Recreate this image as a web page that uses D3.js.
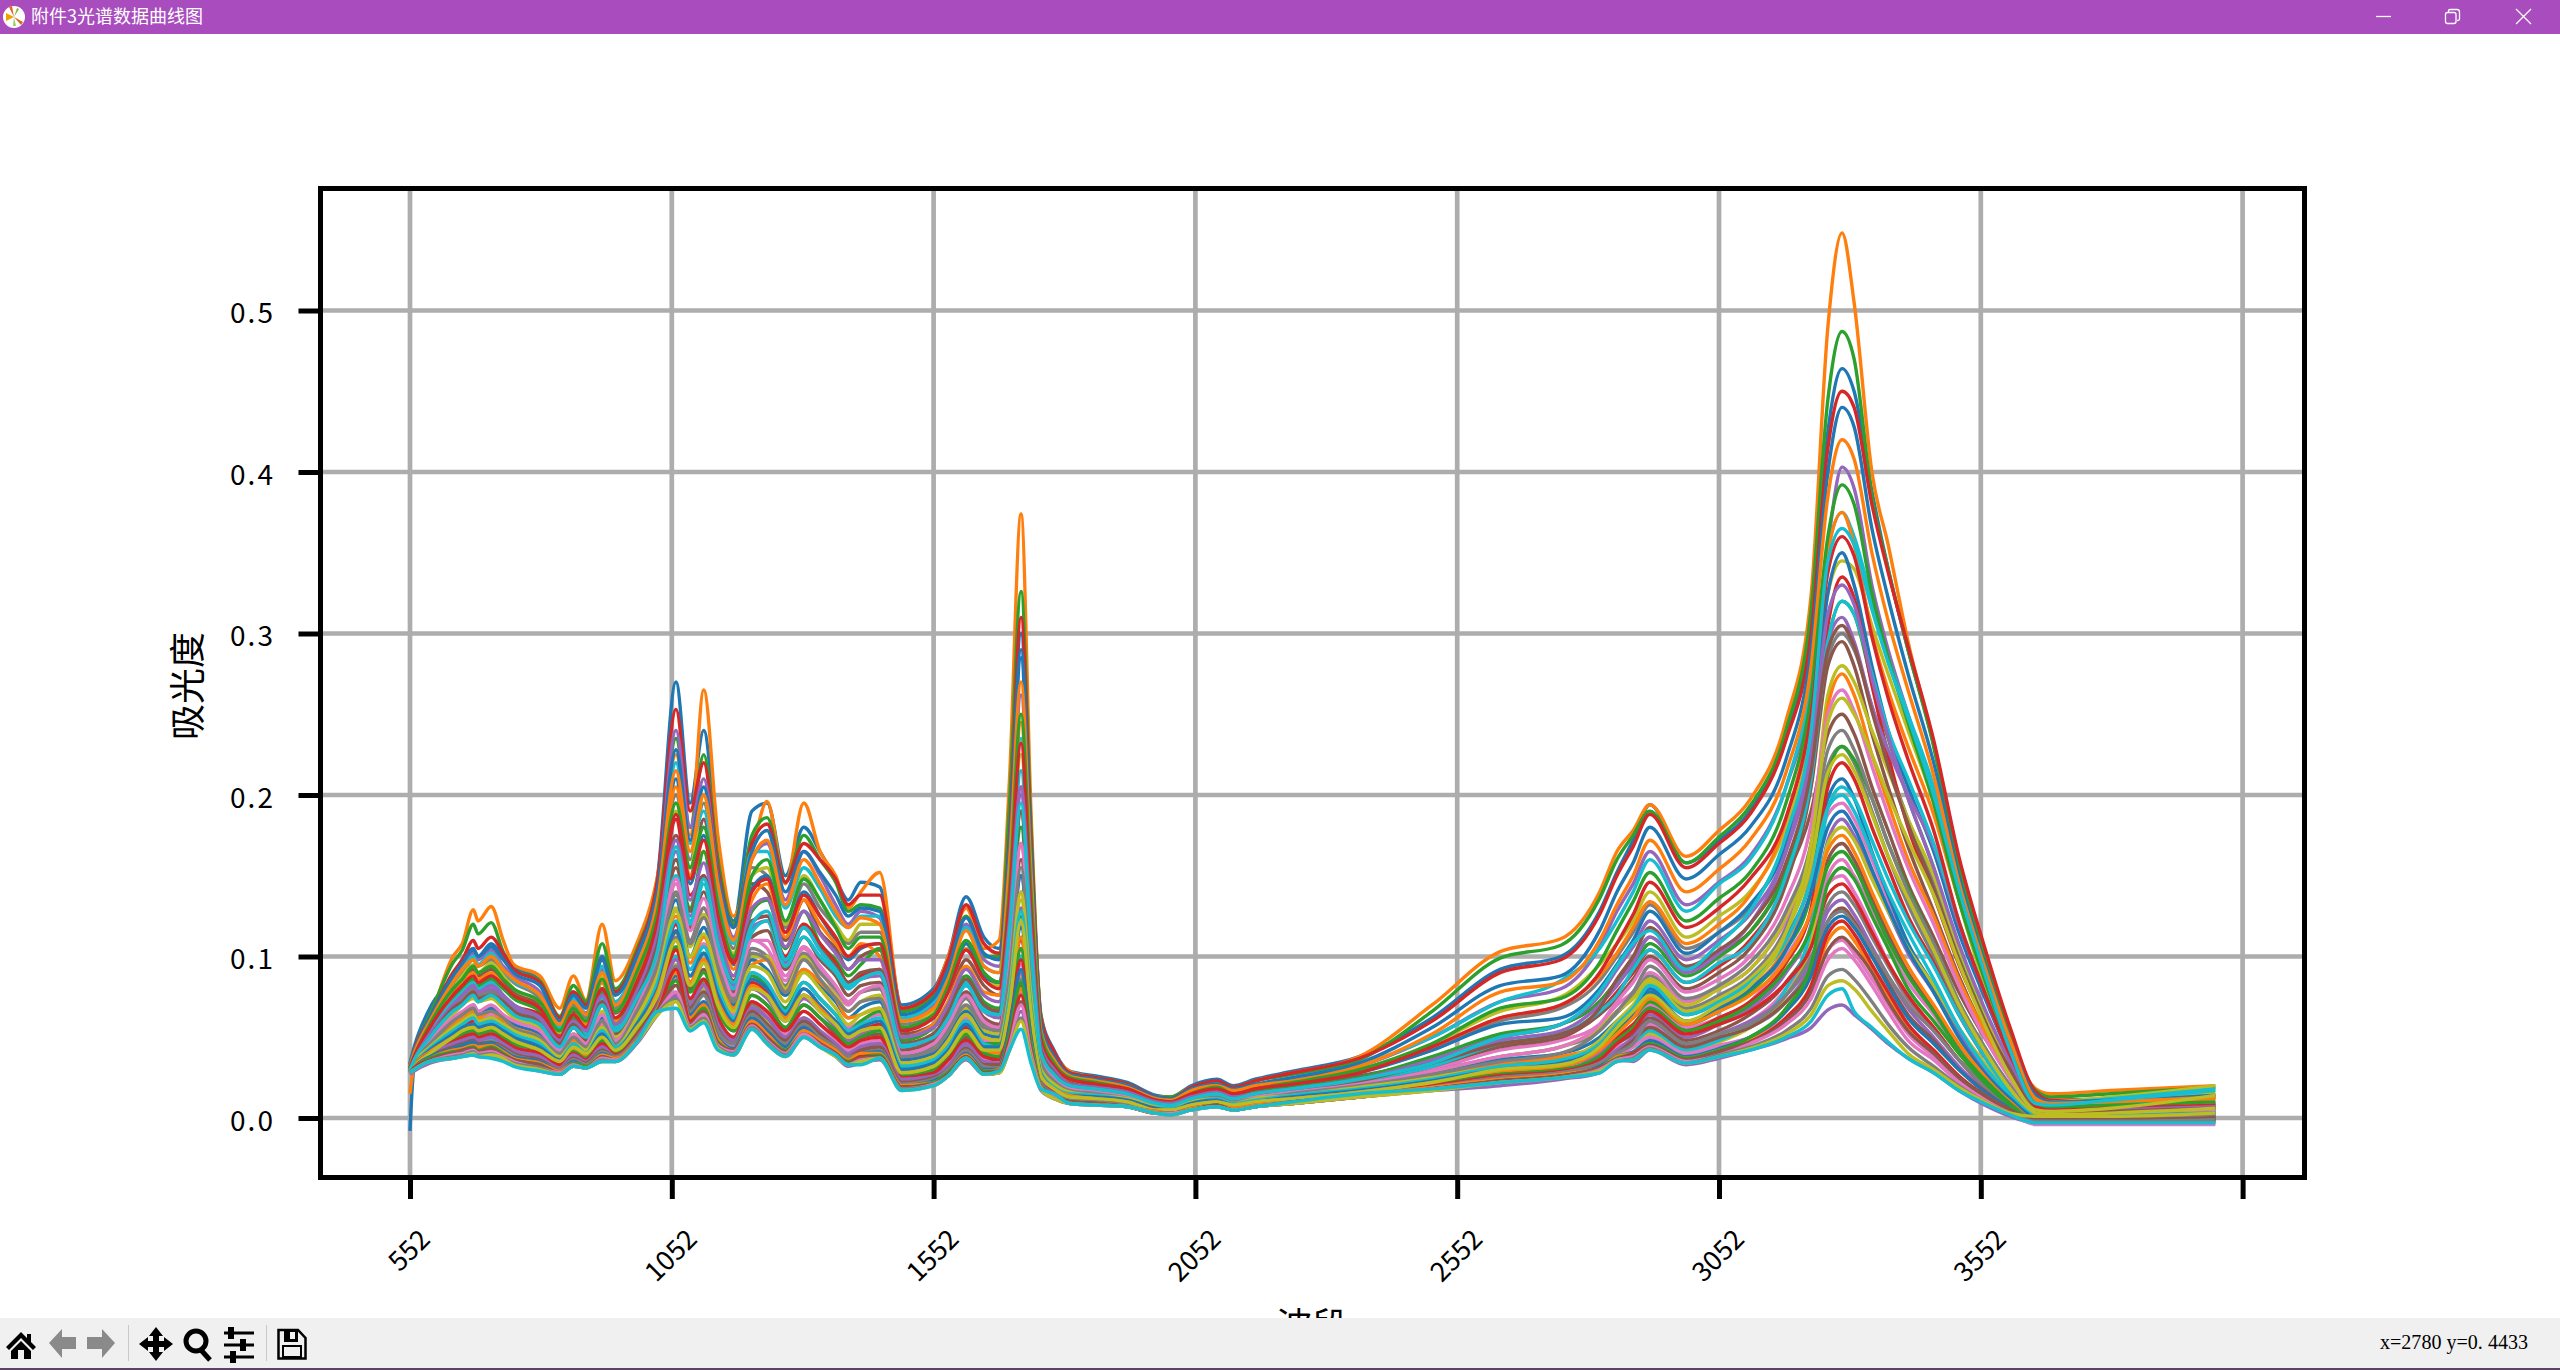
<!DOCTYPE html>
<html>
<head>
<meta charset="utf-8">
<title>附件3光谱数据曲线图</title>
<script src="https://cdn.jsdelivr.net/npm/d3@7"></script>
<style>
html,body{margin:0;padding:0;background:#fff;overflow:hidden;}
svg{display:block;}
</style>
</head>
<body>
<script>
//declare data, absorbance values are in thousandths
var waveNumbers = [552,560,590,634,652,673,682,707,730,750,800,838,864,888,919,944,985,1025,1060,1087,1113,1140,1170,1205,1234,1269,1304,1335,1365,1389,1413,1449,1491,1552,1580,1614,1648,1677,1697,1719,1738,1757,1782,1812,1862,1922,1977,2005,2044,2093,2124,2166,2238,2365,2504,2634,2750,2824,2857,2888,2920,2989,3052,3111,3180,3228,3260,3287,3310,3344,3375,3413,3462,3510,3559,3608,3657,3686,3800,4000];
var xTicks = [552,1052,1552,2052,2552,3052,3552,4052];
var xTickLabels = ["552","1052","1552","2052","2552","3052","3552",""];
var yTicks = [0,100,200,300,400,500];
var yTickLabels = ["0.0","0.1","0.2","0.3","0.4","0.5"];
var lineColors = ["#1f77b4","#ff7f0e","#2ca02c","#d62728","#9467bd","#8c564b","#e377c2","#7f7f7f","#bcbd22","#17becf"];

var s00 = [34,44,68,88,98,105,100,108,100,94,85,62,78,70,100,78,105,150,270,195,240,165,122,190,195,150,180,165,148,135,146,143,70,80,100,137,112,105,180,300,170,64,42,29,26,22,14,13,20,24,20,24,29,38,62,92,100,128,152,172,194,158,172,190,238,305,425,464,450,388,340,290,232,160,103,52,14,10,11,13];
var s01 = [33,40,62,100,108,129,122,131,110,95,88,68,88,73,120,85,108,150,225,175,265,175,125,165,196,145,195,165,150,130,140,152,68,78,100,130,105,110,210,374,190,62,40,29,25,21,13,13,19,22,19,23,28,38,70,103,111,140,165,178,194,162,178,197,246,324,490,548,505,400,355,295,231,155,100,51,18,15,17,20];
var s02 = [33,42,64,96,104,120,114,121,103,92,85,63,82,72,108,80,104,146,235,180,225,160,120,175,186,146,175,160,146,128,132,130,66,76,96,125,100,100,195,326,180,62,40,28,25,21,13,13,19,22,19,23,27,36,66,99,107,136,160,175,190,158,174,193,240,315,445,487,470,385,340,290,230,155,100,51,17,13,15,19];
var s03 = [33,42,62,90,98,110,105,112,102,92,84,62,78,70,98,78,102,148,253,190,220,155,118,170,182,146,170,160,148,132,138,138,68,78,98,132,108,102,175,310,172,62,41,28,25,21,13,12,19,23,19,23,28,37,60,90,98,126,150,168,188,155,170,188,234,300,415,450,440,380,338,292,234,162,106,56,16,11,12,14];
var s04 = [32,40,60,86,94,102,98,104,94,88,78,57,72,65,92,72,96,140,240,180,210,150,112,160,170,135,165,150,132,120,128,124,60,70,88,120,98,94,150,262,148,56,36,26,23,19,12,11,17,20,17,20,24,32,50,72,80,106,128,145,165,132,146,162,205,265,355,403,390,330,290,250,200,140,92,48,13,9,10,12];
var s05 = [31,38,56,78,84,92,88,92,85,78,70,52,66,58,84,65,88,125,175,150,185,128,98,145,140,110,135,115,105,92,100,104,52,58,72,98,82,76,118,190,110,46,30,22,19,16,10,9,14,17,14,17,20,26,36,50,58,72,85,98,112,92,102,115,150,190,238,250,238,205,178,145,112,78,50,26,6,4,5,7];
var s06 = [30,36,50,64,70,76,72,76,70,64,58,44,56,50,70,56,76,105,145,110,130,100,78,110,105,85,105,92,78,70,78,80,40,46,58,78,62,58,85,120,75,34,24,18,16,13,8,7,11,14,11,13,16,22,30,42,48,58,70,78,90,72,80,92,122,155,188,195,185,160,135,105,78,52,30,14,2,1,2,3];
var s07 = [32,39,58,82,90,98,94,98,90,84,74,54,70,62,90,68,92,135,200,160,195,138,105,155,150,118,145,130,118,108,115,115,58,64,80,108,90,84,130,205,122,50,33,24,21,18,11,10,15,18,15,18,22,29,42,60,68,85,100,115,132,105,115,130,170,220,285,300,290,255,220,185,145,100,62,30,8,6,7,9];
var s08 = [32,38,56,80,88,95,90,96,88,80,72,53,68,60,88,66,90,130,190,155,200,135,102,150,155,120,150,135,120,110,120,120,60,66,82,105,88,82,140,225,128,50,34,25,22,19,12,11,16,20,16,19,22,30,46,66,75,95,108,122,140,112,125,140,180,240,325,345,340,305,275,240,195,135,82,38,12,10,13,20];
var s09 = [33,41,60,84,92,100,95,102,92,85,76,56,74,64,94,72,96,140,220,170,190,140,108,165,165,130,155,142,125,118,125,125,62,72,90,118,94,90,150,235,135,54,36,26,23,20,12,11,17,21,17,20,25,33,50,72,85,105,122,140,160,128,145,160,205,270,352,375,360,320,285,250,205,145,92,46,11,9,12,18];
var s10 = [30,38,54,74,82,86,82,88,82,76,68,50,64,56,80,60,84,122,210,145,175,125,95,142,150,115,140,125,110,98,105,108,55,62,80,108,88,84,160,285,150,52,34,24,21,18,11,10,15,19,15,18,21,28,42,58,62,80,95,110,128,102,115,132,170,235,325,350,330,280,240,205,165,115,75,38,8,6,7,9];
var s11 = [31,39,56,76,84,90,86,90,82,76,68,50,64,58,84,60,86,128,205,150,165,125,92,135,145,112,135,120,108,100,108,100,50,58,72,94,78,76,135,245,130,48,30,24,22,18,11,10,15,18,15,18,22,30,44,62,70,88,102,118,134,108,120,138,185,255,350,375,355,300,265,230,188,135,88,46,10,8,9,12];
var s12 = [31,37,52,72,80,86,82,86,80,74,66,48,62,54,78,58,80,112,160,130,165,115,88,128,135,105,128,108,98,88,95,105,48,56,70,88,72,68,115,180,102,42,28,20,18,15,9,9,13,16,13,16,19,25,38,52,58,72,84,94,108,88,100,115,155,215,295,320,312,270,235,198,155,105,65,32,5,4,5,7];
var s13 = [30,37,52,70,76,84,78,84,76,70,64,47,60,52,74,56,78,118,185,138,150,110,85,122,125,100,120,108,96,84,88,92,46,52,64,84,68,66,110,170,96,40,27,19,17,14,9,8,12,15,12,15,18,23,34,46,50,66,78,90,104,84,94,110,148,210,305,335,322,268,225,180,138,95,60,30,3,2,3,4];
var s14 = [31,36,50,68,74,80,76,80,74,68,62,46,58,50,72,54,74,108,165,125,150,108,82,118,122,96,118,104,92,82,86,88,44,50,62,82,66,62,120,200,108,38,26,20,18,15,9,8,13,16,13,15,18,24,34,48,54,70,82,96,112,90,102,120,165,228,295,310,295,255,228,200,168,120,78,38,7,5,6,8];
var s15 = [30,36,50,66,72,78,74,78,72,66,60,44,56,48,70,52,72,105,155,118,140,102,78,112,116,92,112,98,88,76,82,84,42,48,58,78,62,58,100,160,90,36,25,18,16,14,8,7,12,15,12,14,17,22,32,44,50,64,74,86,100,80,90,105,145,205,280,295,280,238,205,168,128,88,54,26,4,3,4,6];
var s16 = [30,34,46,58,62,66,62,64,60,54,50,38,46,42,58,46,64,90,120,92,108,82,64,90,84,68,84,74,64,56,60,64,32,36,46,62,48,46,70,100,62,28,20,15,13,11,6,6,9,12,9,11,14,19,25,33,37,46,56,62,70,56,62,72,100,125,145,150,140,118,96,72,54,36,20,8,0,-1,0,1];
var s17 = [31,36,50,68,74,80,76,78,72,66,58,46,56,50,70,54,72,102,140,110,130,98,74,105,100,82,102,90,80,72,78,80,38,44,56,74,58,56,92,150,86,34,23,17,15,13,8,7,11,14,11,13,16,21,29,38,44,54,65,75,88,68,76,88,118,162,218,230,220,190,162,132,100,68,42,20,3,2,3,5];
var s18 = [29,35,48,64,70,74,72,74,68,62,56,42,52,46,66,50,68,98,130,106,126,96,72,100,100,80,100,86,76,66,72,76,36,42,52,68,54,52,86,135,78,32,22,17,15,12,8,7,11,14,11,13,16,20,28,38,44,56,66,74,86,70,80,92,125,170,262,280,270,240,215,185,150,105,66,30,8,7,9,16];
var s19 = [32,38,54,72,78,84,80,84,76,70,62,48,58,52,74,56,76,106,150,120,145,104,80,115,122,94,112,100,90,80,86,90,44,52,64,84,68,64,125,215,115,40,26,19,17,14,9,8,12,15,12,15,18,23,32,46,52,66,76,92,104,84,96,108,150,210,295,320,312,275,240,210,170,122,78,38,6,5,8,14];
var s20 = [31,35,46,60,64,70,66,68,62,58,52,40,50,44,62,48,66,96,135,100,118,90,70,98,92,76,92,82,72,62,68,72,36,40,50,66,52,50,92,150,84,32,21,16,14,12,7,6,10,13,10,12,15,20,27,36,40,50,60,68,80,64,72,84,112,148,198,210,198,165,138,108,82,55,32,14,1,0,1,3];
var s21 = [29,34,46,58,62,66,62,66,60,56,50,38,48,42,60,46,62,92,125,96,112,88,68,95,98,78,92,84,74,62,64,68,34,38,48,64,50,48,88,140,78,30,20,16,14,12,7,6,10,13,10,12,15,20,26,34,38,46,55,64,76,60,68,80,108,155,255,275,262,225,195,160,125,86,54,26,4,3,4,8];
var s22 = [30,34,44,56,60,64,60,62,58,52,46,37,46,40,56,44,60,84,110,88,102,80,62,88,82,68,84,74,64,54,60,66,30,36,44,60,46,46,80,125,70,28,19,14,13,11,6,6,9,12,9,11,14,18,24,32,36,46,54,62,72,58,66,78,104,140,212,230,222,198,170,142,108,72,44,20,2,1,2,4];
var s23 = [29,33,43,52,56,60,58,60,54,50,44,35,44,38,52,42,56,80,120,84,98,72,58,84,78,62,76,68,58,50,54,58,28,32,40,56,42,42,72,110,62,26,18,13,12,10,5,5,8,11,8,10,13,17,23,30,34,42,50,58,68,54,62,72,96,130,205,220,210,180,155,125,96,64,38,16,0,-1,0,1];
var s24 = [30,33,42,52,55,58,55,58,52,48,44,35,42,38,50,42,56,78,105,80,96,70,56,80,74,60,74,66,56,48,52,56,28,32,38,54,42,42,82,130,70,26,18,13,12,10,5,5,8,10,8,10,12,16,22,28,32,40,48,54,64,50,58,68,90,120,172,185,175,150,128,102,78,52,30,14,0,-1,0,2];
var s25 = [29,33,42,50,54,56,54,56,50,46,42,34,42,37,50,41,54,76,115,80,92,68,54,76,70,56,70,62,52,46,50,52,26,30,38,50,38,38,68,105,58,24,17,13,11,9,5,4,8,10,7,9,12,16,21,28,30,38,46,52,62,48,54,64,84,112,160,170,160,136,114,90,68,44,26,10,-1,-1,-1,0];
var s26 = [28,32,40,48,50,54,50,52,48,44,40,32,40,36,46,40,52,74,100,74,86,62,50,72,64,52,66,58,48,42,46,48,24,28,34,46,36,34,60,95,54,23,16,12,11,9,5,4,7,9,7,9,11,15,20,26,29,36,44,48,58,45,52,60,80,106,150,160,150,128,106,84,64,42,24,10,-2,-2,-2,-1];
var s27 = [29,32,40,46,48,50,48,50,46,42,38,31,38,34,44,38,50,72,112,72,84,60,48,70,62,50,62,54,46,40,44,46,23,26,32,44,34,32,68,112,60,22,15,12,10,8,4,4,7,9,7,8,11,14,19,25,28,34,40,44,52,42,48,56,72,96,132,140,132,112,94,74,56,36,20,8,-1,-1,-1,1];
var s28 = [28,31,39,45,47,50,47,49,45,41,37,30,37,33,43,37,49,70,95,70,80,58,47,68,60,48,60,52,44,38,42,44,22,25,30,42,32,31,54,88,50,21,15,11,10,8,4,3,6,8,6,8,10,14,19,24,27,33,40,44,52,41,47,56,76,110,170,180,172,148,128,105,82,56,34,14,2,1,3,10];
var s29 = [28,32,38,44,46,48,46,48,44,40,36,30,36,33,42,38,50,70,100,68,76,54,45,66,58,46,58,50,44,38,42,42,21,24,30,42,32,31,60,100,56,22,14,11,10,8,4,3,6,8,6,8,10,14,19,25,28,34,42,46,54,42,48,58,80,118,192,205,198,172,148,122,94,64,38,16,1,0,2,8];
var s30 = [-8,31,38,43,45,47,45,46,42,38,35,29,35,32,40,37,48,69,88,64,72,50,43,62,54,44,56,48,42,36,40,41,20,23,28,40,30,30,56,92,50,20,14,10,9,7,4,3,6,8,5,7,10,13,18,24,26,32,38,41,48,38,43,50,66,88,118,125,118,100,82,62,46,30,16,6,-2,-2,-2,0];
var s31 = [15,31,37,42,43,45,44,45,41,37,34,29,34,32,39,37,48,68,90,62,70,49,42,60,52,42,54,48,42,36,40,40,20,22,28,39,29,30,50,80,46,20,13,10,9,7,4,3,6,8,6,8,10,14,19,24,27,31,38,40,46,37,42,48,62,82,110,118,110,92,74,56,42,26,14,5,-3,-2,-3,-2];
var s32 = [28,31,37,41,42,44,42,44,40,36,33,28,34,32,38,36,47,67,85,60,68,47,42,58,50,42,52,46,40,35,38,39,19,22,28,38,29,29,52,84,46,20,14,10,9,7,3,3,5,8,5,7,9,13,18,23,26,31,37,40,46,37,42,50,68,95,145,155,148,125,105,80,60,40,22,8,-2,-2,-2,-1];
var s33 = [28,31,36,40,41,43,41,42,39,36,32,28,33,31,37,36,47,66,92,60,66,46,41,58,50,40,52,46,40,34,38,38,19,21,27,38,28,29,48,76,42,19,13,10,9,7,3,3,5,8,5,7,9,13,18,23,26,31,36,40,45,36,41,47,62,82,114,122,114,95,78,58,42,26,14,5,-2,-2,-2,-1];
var s34 = [27,29,34,37,38,39,38,38,36,33,29,27,32,31,35,35,46,64,76,54,60,43,39,56,46,38,50,44,38,32,34,36,18,20,26,36,27,28,44,66,38,17,12,9,8,7,3,2,5,7,5,7,10,14,17,20,24,28,36,35,42,33,37,42,49,56,67,70,64,55,46,37,28,17,8,1,-3,-3,-3,-3];
var s35 = [28,30,36,40,42,43,41,43,39,36,33,28,33,31,38,36,47,66,82,58,66,46,42,58,50,41,52,46,40,34,37,38,19,21,27,38,28,29,46,72,41,19,13,10,9,7,3,3,5,8,5,7,10,13,18,23,26,31,36,39,45,36,41,47,60,78,104,112,105,90,72,54,40,25,14,5,-1,-1,-1,0];
var s36 = [28,30,35,39,40,42,40,41,38,35,31,28,33,31,37,36,47,65,78,57,64,45,41,57,48,40,52,45,39,33,36,37,18,21,26,37,27,28,45,70,40,19,13,9,8,7,3,3,5,7,5,7,9,13,18,22,25,30,36,38,44,35,39,46,58,74,98,105,98,82,66,48,36,22,11,3,-4,-4,-4,-4];
var s37 = [28,30,35,38,39,41,39,40,37,34,31,27,32,31,36,35,47,65,74,56,62,44,40,56,47,39,50,44,39,33,35,37,18,20,26,37,27,28,42,62,37,18,12,9,8,7,3,2,5,7,5,7,9,13,17,22,25,29,35,37,43,34,39,44,54,68,88,92,86,72,58,44,32,20,10,3,-2,-2,-2,-1];
var s38 = [28,30,35,37,38,40,38,39,37,33,30,27,32,31,35,35,47,64,72,55,60,43,39,55,46,38,50,44,38,33,35,37,17,20,26,37,27,28,42,60,36,18,12,9,8,7,3,2,5,7,5,7,9,13,17,22,25,29,35,36,42,34,38,43,52,64,82,85,80,66,54,40,30,19,10,3,1,1,1,3];
var s39 = [28,30,35,37,38,39,38,37,35,32,29,27,32,31,35,35,47,66,68,54,59,42,39,55,46,38,50,44,39,33,33,37,17,20,26,37,27,29,42,55,34,18,15,9,8,7,3,2,5,7,5,7,10,15,18,22,25,28,35,36,42,34,38,42,50,60,76,80,66,56,47,37,28,17,9,2,-3,-3,-3,-3];
var s40 = [33,41,62,88,96,104,100,106,98,90,82,60,76,68,98,76,100,142,228,172,205,150,118,165,178,140,165,152,138,125,130,128,64,74,92,124,102,98,170,290,165,58,38,27,24,20,13,12,18,21,18,21,25,34,56,82,88,116,140,158,180,148,163,180,222,290,400,440,428,365,322,275,220,150,96,48,14,10,11,14];
var s41 = [32,40,60,84,92,98,94,100,92,86,76,58,72,64,90,70,94,135,215,165,200,145,110,160,172,132,160,145,128,118,124,120,60,68,86,116,94,90,158,270,152,54,36,26,23,19,12,11,17,20,17,20,23,32,52,78,84,110,132,150,172,140,154,172,214,280,385,420,408,350,308,265,212,146,94,48,12,9,10,13];
var s42 = [31,38,58,80,86,94,90,94,86,80,72,54,68,60,86,66,90,128,195,155,180,132,100,150,160,122,148,135,118,105,112,112,56,64,82,110,90,84,142,250,140,52,34,25,22,18,11,10,15,19,15,18,22,30,46,68,74,96,116,134,152,122,136,152,195,262,360,392,380,325,285,245,195,135,86,42,9,7,8,10];
var s43 = [31,38,56,76,82,88,84,88,82,76,68,50,64,56,80,62,84,122,188,148,172,125,96,140,148,115,138,125,112,100,106,108,54,62,78,104,86,80,135,232,128,48,32,24,21,18,11,10,15,18,15,18,21,28,44,62,70,90,108,126,146,118,130,148,186,250,338,360,348,298,260,222,178,122,78,38,7,5,6,8];
var s44 = [30,36,52,70,76,82,78,82,76,70,62,48,60,54,76,58,78,114,172,135,158,116,88,130,136,106,128,114,102,92,98,98,50,56,70,92,76,72,122,205,115,44,30,21,19,16,10,9,13,16,13,15,18,24,36,50,58,76,92,106,122,98,110,126,165,225,312,330,318,272,236,198,155,108,68,34,5,4,5,7];
var s45 = [30,36,50,68,72,78,74,76,72,66,58,46,58,50,72,54,74,108,160,128,150,108,84,122,125,98,118,105,94,84,90,92,46,52,66,86,70,66,108,190,100,42,28,20,18,15,9,8,12,15,12,14,17,23,34,46,52,68,86,100,118,94,104,120,158,215,290,305,292,252,218,182,142,98,60,30,5,3,4,6];
var s46 = [30,34,48,62,66,70,66,70,64,60,54,42,52,46,64,48,68,100,148,116,136,102,76,110,110,88,106,94,82,72,78,82,40,46,58,76,60,56,96,170,92,36,25,18,16,13,8,7,11,14,11,13,16,21,29,38,44,58,72,84,98,78,86,100,135,182,250,265,252,218,188,155,120,82,50,24,3,2,2,4];
var s47 = [30,35,46,60,64,68,64,66,62,56,50,40,50,44,60,46,66,95,138,108,124,94,72,102,98,78,98,86,74,66,72,74,38,42,54,70,56,54,88,155,84,34,23,17,15,12,7,7,10,13,10,12,15,20,27,35,40,54,66,78,94,74,82,96,128,170,228,240,228,198,170,140,108,72,44,20,2,1,2,3];
var s48 = [29,34,44,56,60,64,60,62,58,54,48,38,46,42,56,44,62,88,128,100,114,86,66,94,90,72,90,80,68,58,64,68,34,38,48,64,50,48,78,140,76,30,21,16,14,12,7,6,10,12,9,12,14,19,25,32,36,48,60,70,84,66,74,86,115,158,214,225,215,188,162,136,104,70,42,18,3,2,3,6];
var s49 = [29,33,43,54,58,62,58,60,56,52,46,36,46,40,54,44,58,84,122,92,106,80,62,90,84,66,84,74,64,54,58,62,32,36,44,60,46,44,75,128,70,28,19,15,14,11,6,6,9,12,9,11,14,18,24,32,36,46,58,68,82,64,72,84,110,148,192,200,190,164,140,115,86,56,32,14,1,0,1,3];
var s50 = [29,33,42,52,56,58,56,58,54,50,44,36,44,40,52,42,58,80,116,88,102,76,60,86,80,64,80,70,60,52,56,60,30,34,42,58,44,44,70,118,66,27,18,14,13,11,6,5,9,11,8,10,13,17,23,30,34,44,56,64,78,60,68,80,104,140,180,190,180,154,130,104,78,50,28,12,0,-1,0,2];
var s51 = [29,33,41,50,54,56,54,56,52,48,42,35,42,38,50,41,54,78,110,84,98,72,58,82,76,62,76,68,58,50,54,56,28,32,40,54,42,40,66,112,62,26,18,14,12,10,5,5,8,10,8,10,12,16,22,29,32,42,52,62,74,58,66,76,98,128,166,175,165,140,118,94,70,46,26,10,-1,-1,-1,1];
var s52 = [28,32,40,48,52,54,52,54,50,46,42,34,41,37,48,40,52,74,106,78,90,66,54,76,70,56,70,62,54,46,50,54,27,30,38,52,40,38,62,105,58,24,17,13,11,9,5,4,7,9,7,9,11,15,21,27,30,38,48,56,68,54,60,70,92,118,156,165,156,132,110,88,66,42,24,9,-1,-1,-1,0];
var s53 = [28,32,40,47,50,52,50,52,48,44,40,33,40,36,46,39,51,72,104,74,86,62,50,72,66,54,66,58,50,44,48,50,25,28,36,48,38,36,58,98,54,23,16,12,11,9,5,4,7,9,7,9,11,15,20,26,29,36,46,54,66,52,58,66,84,106,138,145,136,115,96,76,56,36,20,8,-2,-2,-2,-1];
var s54 = [28,31,39,46,48,50,48,50,46,42,38,31,39,35,44,38,50,70,98,70,82,58,48,68,62,50,62,54,46,40,44,46,24,26,32,46,35,34,54,90,50,22,15,12,10,8,4,4,7,9,6,8,10,14,19,25,28,34,42,50,60,46,52,60,76,98,128,135,126,106,88,68,50,32,18,7,-2,-2,-2,-1];
var s55 = [28,31,38,44,46,48,46,47,44,40,36,30,37,34,42,38,49,68,92,68,78,55,46,66,58,48,60,52,44,38,42,44,22,25,30,43,33,33,52,82,48,21,14,11,10,8,4,3,6,8,6,8,10,14,19,24,27,33,40,48,56,44,50,56,72,92,122,130,122,102,84,64,48,30,17,6,-1,-1,-1,0];
var s56 = [27,30,36,42,44,46,44,45,42,38,34,29,36,33,40,37,48,67,86,62,72,50,44,62,54,44,56,48,42,36,38,40,20,23,28,40,30,30,48,78,44,20,13,10,9,8,3,3,6,8,5,7,9,13,18,23,26,31,37,44,50,40,45,50,62,80,104,110,102,86,70,52,38,24,13,4,-3,-3,-3,-2];
var s57 = [28,31,37,43,45,47,45,46,43,39,35,30,36,33,41,38,49,68,94,66,76,54,46,64,56,46,58,50,44,38,40,42,21,24,30,42,32,31,50,86,48,21,14,11,10,8,4,3,6,8,6,8,10,14,19,25,28,34,40,46,60,46,52,58,76,100,122,128,120,104,88,70,54,36,20,8,-1,-1,-1,1];
var s58 = [28,32,40,50,54,56,54,56,52,48,42,35,44,40,50,42,56,76,110,82,96,70,56,80,76,60,76,66,58,50,54,56,28,32,40,54,42,42,70,122,66,26,18,13,12,10,5,5,8,10,8,10,12,16,22,30,33,44,56,66,76,60,70,82,115,170,245,260,250,225,200,172,138,96,58,26,5,4,6,14];
var s59 = [30,36,50,66,70,76,72,76,70,64,58,44,56,50,70,54,74,104,168,122,148,108,84,120,128,98,118,104,92,82,86,90,45,50,62,82,66,64,115,195,108,40,27,20,18,15,9,8,12,15,12,15,18,24,34,50,58,78,94,108,116,92,108,128,175,240,345,365,355,315,282,248,200,142,90,42,9,8,11,17];
var seriesList = [s00,s01,s02,s03,s04,s05,s06,s07,s08,s09,s10,s11,s12,s13,s14,s15,s16,s17,s18,s19,s20,s21,s22,s23,s24,s25,s26,s27,s28,s29,s40,s41,s42,s43,s44,s45,s46,s47,s48,s49,s50,s51,s52,s53,s54,s55,s56,s57,s58,s59,s30,s31,s32,s33,s34,s35,s36,s37,s38,s39];

var cjkFont = "'Noto Sans CJK SC','Noto Sans',sans-serif";

//create svg
var svg = d3.select("body").append("svg")
    .attr("width",2560)
    .attr("height",1370);

//scales, the pixel ranges come from the window layout
var x = d3.scaleLinear().domain([552,4052]).range([410,2242.6]);
var y = d3.scaleLinear().domain([0,500]).range([1118,310.5]);
var axLeft = 320.5, axRight = 2304.5, axTop = 188.5, axBottom = 1177.5;

//grid goes under the curves
svg.selectAll("line.gridx").data(xTicks).enter().append("line")
    .attr("class","gridx")
    .attr("x1",function(d){ return x(d); }).attr("x2",function(d){ return x(d); })
    .attr("y1",axTop).attr("y2",axBottom)
    .attr("stroke","#adadad").attr("stroke-width",4.7);
svg.selectAll("line.gridy").data(yTicks).enter().append("line")
    .attr("class","gridy")
    .attr("x1",axLeft).attr("x2",axRight)
    .attr("y1",function(d){ return y(d); }).attr("y2",function(d){ return y(d); })
    .attr("stroke","#adadad").attr("stroke-width",4.7);

//one path per spectrum
var line = d3.line()
    .x(function(d,i){ return x(waveNumbers[i]); })
    .y(function(d){ return y(d); })
    .curve(d3.curveMonotoneX);

svg.append("g").selectAll("path").data(seriesList).enter().append("path")
    .attr("fill","none")
    .attr("stroke",function(d,i){ return lineColors[i%10]; })
    .attr("stroke-width",3.4)
    .attr("stroke-linejoin","round")
    .attr("d",line);

//frame
svg.append("rect")
    .attr("x",axLeft).attr("y",axTop)
    .attr("width",axRight-axLeft).attr("height",axBottom-axTop)
    .attr("fill","none").attr("stroke","#000").attr("stroke-width",5);

//axes
var xAxis = svg.append("g")
    .attr("transform","translate(0,"+axBottom+")")
    .call(d3.axisBottom(x).tickValues(xTicks).tickSizeInner(21.5).tickSizeOuter(0)
        .tickFormat(function(d,i){ return xTickLabels[i]; }));
xAxis.select(".domain").remove();
xAxis.selectAll("line").attr("stroke","#000").attr("stroke-width",5);
xAxis.selectAll("text")
    .attr("y",0).attr("dy",null)
    .attr("text-anchor","middle")
    .attr("dominant-baseline","central")
    .attr("transform",function(d,i){
        var half = (xTickLabels[i].length*14.4+20)*0.707/2;
        return "translate(-3,"+(49+half)+") rotate(-45)";
    })
    .style("font-family",cjkFont).style("font-size","27px").attr("fill","#000");

var yAxis = svg.append("g")
    .attr("transform","translate("+axLeft+",0)")
    .call(d3.axisLeft(y).tickValues(yTicks).tickSizeInner(22).tickSizeOuter(0)
        .tickFormat(function(d,i){ return yTickLabels[i]; }));
yAxis.select(".domain").remove();
yAxis.selectAll("line").attr("stroke","#000").attr("stroke-width",5);
yAxis.selectAll("text")
    .attr("x",-47.5).attr("dy",null)
    .attr("dominant-baseline","central")
    .attr("text-anchor","end")
    .attr("textLength",43)
    .style("font-family",cjkFont).style("font-size","28px").attr("fill","#000");

//axis titles
svg.append("text")
    .attr("transform","translate(185,686) rotate(-90)")
    .attr("text-anchor","middle").attr("dominant-baseline","central")
    .style("font-family",cjkFont).style("font-size","36px")
    .text("吸光度");
svg.append("text")
    .attr("x",1312).attr("y",1339)
    .attr("text-anchor","middle")
    .style("font-family",cjkFont).style("font-size","36px")
    .text("波段");

//window title bar
svg.append("rect").attr("x",0).attr("y",0).attr("width",2560).attr("height",34).attr("fill","#a94dbe");
svg.append("circle").attr("cx",14).attr("cy",17).attr("r",11).attr("fill","#fff");
svg.append("path").attr("d","M14 17L6 13L6 21Z").attr("fill","#f0a000");
svg.append("path").attr("d","M14 17L9 7L12 6Z").attr("fill","#e8641e");
svg.append("path").attr("d","M14 17L23 22L21 25Z").attr("fill","#d96a1a");
svg.append("path").attr("d","M14 17L19 9L17 8Z").attr("fill","#7cb342");
svg.append("path").attr("d","M14 17L13 26L16 26Z").attr("fill","#9ccc65");
svg.append("text")
    .attr("x",31).attr("y",23)
    .attr("fill","#fff")
    .style("font-family",cjkFont).style("font-size","18px")
    .text("附件3光谱数据曲线图");

//window buttons
svg.append("line").attr("x1",2376).attr("x2",2391).attr("y1",16.5).attr("y2",16.5).attr("stroke","#fff").attr("stroke-width",1.3);
svg.append("rect").attr("x",2445.5).attr("y",12.5).attr("width",10.5).attr("height",11).attr("rx",2).attr("fill","none").attr("stroke","#fff").attr("stroke-width",1.3);
svg.append("path").attr("d","M2448.5 12V11Q2448.5 9.5 2450 9.5H2457Q2459.5 9.5 2459.5 12V19Q2459.5 20.5 2457 20.5").attr("fill","none").attr("stroke","#fff").attr("stroke-width",1.3);
svg.append("path").attr("d","M2516 9L2531 24M2531 9L2516 24").attr("fill","none").attr("stroke","#fff").attr("stroke-width",1.3);

//toolbar sits over the x title and cuts it off
svg.append("rect").attr("x",0).attr("y",1318).attr("width",2560).attr("height",50).attr("fill","#f0f0f0");
svg.append("rect").attr("x",0).attr("y",1368).attr("width",2560).attr("height",2).attr("fill","#5d4168");

var tb = svg.append("g");
//home
tb.append("path").attr("d","M21 1332L6 1347L9 1350L21 1338L33 1350L36 1347L31 1342V1334H27V1338Z").attr("fill","#000");
tb.append("path").attr("d","M11 1351L21 1341L31 1351V1359H24V1350H18V1359H11Z").attr("fill","#000");
//back and forward
tb.append("path").attr("d","M49 1343L62 1329V1337H76V1349H62V1358Z").attr("fill","#8a8a8a");
tb.append("path").attr("d","M115 1343L102 1329V1337H87V1349H102V1358Z").attr("fill","#8a8a8a");
//separators
tb.append("line").attr("x1",128.5).attr("x2",128.5).attr("y1",1325).attr("y2",1361).attr("stroke","#c8c8c8");
tb.append("line").attr("x1",266.5).attr("x2",266.5).attr("y1",1325).attr("y2",1361).attr("stroke","#c8c8c8");
//move
tb.append("path").attr("d","M156 1327L163 1336H159V1341H164V1337L173 1344L164 1351V1347H159V1352H163L156 1361L149 1352H153V1347H148V1351L139 1344L148 1337V1341H153V1336H149Z").attr("fill","#000");
//zoom
tb.append("circle").attr("cx",196).attr("cy",1341).attr("r",10).attr("fill","none").attr("stroke","#000").attr("stroke-width",5);
tb.append("line").attr("x1",201).attr("y1",1350).attr("x2",210).attr("y2",1360).attr("stroke","#000").attr("stroke-width",5);
//sliders
[[1333,231],[1345,243],[1357,233]].forEach(function(p){
    tb.append("line").attr("x1",224).attr("x2",254).attr("y1",p[0]).attr("y2",p[0]).attr("stroke","#000").attr("stroke-width",3);
    tb.append("rect").attr("x",p[1]-3).attr("y",p[0]-6).attr("width",6).attr("height",12).attr("fill","#000");
});
//save
tb.append("path").attr("d","M278.5 1330H298L305.5 1338V1358.5H278.5Z").attr("fill","none").attr("stroke","#000").attr("stroke-width",2.5);
tb.append("rect").attr("x",284).attr("y",1331).attr("width",14).attr("height",11).attr("fill","#000");
tb.append("rect").attr("x",290).attr("y",1332).attr("width",5).attr("height",7).attr("fill","#f0f0f0");
tb.append("rect").attr("x",283).attr("y",1346).attr("width",18).attr("height",11).attr("fill","none").attr("stroke","#000").attr("stroke-width",2);

//coordinate readout
svg.append("text")
    .attr("x",2380).attr("y",1349)
    .attr("textLength",148)
    .attr("lengthAdjust","spacingAndGlyphs")
    .style("font-family","'Liberation Serif',serif").style("font-size","20px")
    .text("x=2780  y=0. 4433");
</script>
</body>
</html>
